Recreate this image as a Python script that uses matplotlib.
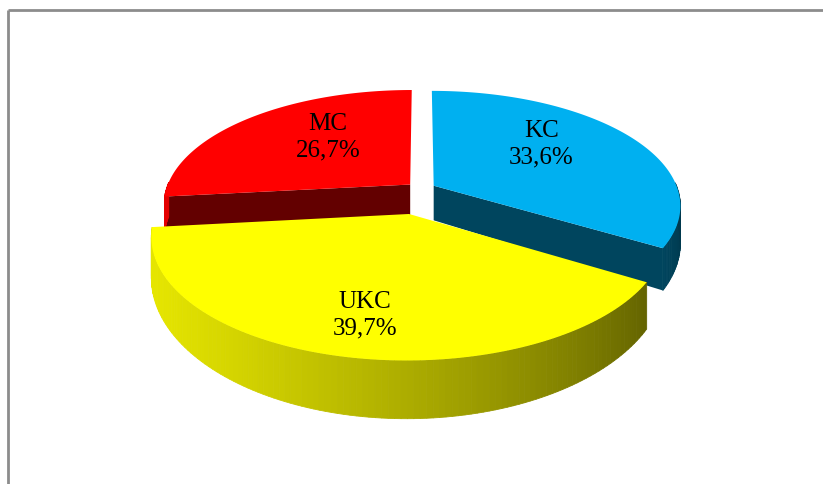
import numpy as np
import matplotlib
matplotlib.use("Agg")
import matplotlib.pyplot as plt
from matplotlib.patches import Polygon

# Datos del grafico
categorias = ["KC", "UKC", "MC"]
porcentajes = [33.6, 39.7, 26.7]
colores_top = ["#00B0F0", "#FFFF00", "#FF0000"]
separacion = [0.06, 0.22, 0.06]

# Parametros de la vista (pixeles)
cx, cy = 421, 190
RX, RY = 244, 112
persp = 0.17
H0 = 35
lbl_r = [0.63, 0.74, 0.6]
lbl_da = [11, 1, -10]


def proy(X, Y, z):
    s = 1.0 / (1.0 + persp * Y)
    sx = cx + RX * X * s
    sy = cy - RY * Y * s + z * H0 * s ** 2.2
    return sx, sy


def sombra(color, f):
    c = np.array(matplotlib.colors.to_rgb(color))
    return tuple(np.clip(c * f, 0, 1))


fig = plt.figure(figsize=(8.23, 4.85), dpi=100)
ax = fig.add_axes([0, 0, 1, 1])
ax.set_xlim(0, 823)
ax.set_ylim(485, 0)
ax.axis("off")

# marco
ax.plot([8, 8], [485, 11], color="#8C8C8C", lw=2, solid_capstyle="butt")
ax.plot([8, 823], [11, 11], color="#8C8C8C", lw=2, solid_capstyle="butt")

# angulos de cada porcion (sentido horario desde arriba)
total = sum(porcentajes)
rebanadas = []
ang = 90.0
for i, p in enumerate(porcentajes):
    a2 = ang
    a1 = ang - 360.0 * p / total
    ang = a1
    mid = np.radians((a1 + a2) / 2)
    ox, oy = separacion[i] * np.cos(mid), separacion[i] * np.sin(mid)
    rebanadas.append((i, np.radians(a1), np.radians(a2), ox, oy))

# pintar de atras hacia adelante
rebanadas.sort(key=lambda r: -r[4] - 0.5 * np.sin((r[1] + r[2]) / 2))

for i, t1, t2, ox, oy in rebanadas:
    col = colores_top[i]
    t = np.linspace(t1, t2, 120)
    bx, by = ox + np.cos(t), oy + np.sin(t)

    # caras radiales
    for ta, nrm in ((t1, t1 - np.pi / 2), (t2, t2 + np.pi / 2)):
        if np.sin(nrm) < 0:
            ex, ey = ox + np.cos(ta), oy + np.sin(ta)
            pts = [proy(ox, oy, 0), proy(ex, ey, 0), proy(ex, ey, 1), proy(ox, oy, 1)]
            ax.add_patch(Polygon(pts, closed=True, fc=sombra(col, 0.39), ec="none"))

    # pared curva (solo la parte frontal) con degradado
    for k in range(len(t) - 1):
        tm = 0.5 * (t[k] + t[k + 1])
        if np.sin(tm) > 0.02:
            continue
        f = 0.6 + 0.3 * np.cos(tm - np.radians(-165))
        pts = [proy(bx[k], by[k], 0), proy(bx[k + 1], by[k + 1], 0),
               proy(bx[k + 1], by[k + 1], 1), proy(bx[k], by[k], 1)]
        ax.add_patch(Polygon(pts, closed=True, fc=sombra(col, f), ec=sombra(col, f), lw=0.6))

    # cara superior
    pts = [proy(ox, oy, 0)] + [proy(x, y, 0) for x, y in zip(bx, by)]
    ax.add_patch(Polygon(pts, closed=True, fc=col, ec="none"))

    # etiqueta
    tm = 0.5 * (t1 + t2) + np.radians(lbl_da[i])
    lx, ly = proy(ox + lbl_r[i] * np.cos(tm), oy + lbl_r[i] * np.sin(tm), 0)
    etiqueta = "%s\n%s%%" % (categorias[i], ("%.1f" % porcentajes[i]).replace(".", ","))
    ax.text(lx, ly, etiqueta, ha="center", va="center", fontsize=18,
            family="Liberation Serif", linespacing=1.3, color="black")

fig.savefig("out.png", dpi=100)
